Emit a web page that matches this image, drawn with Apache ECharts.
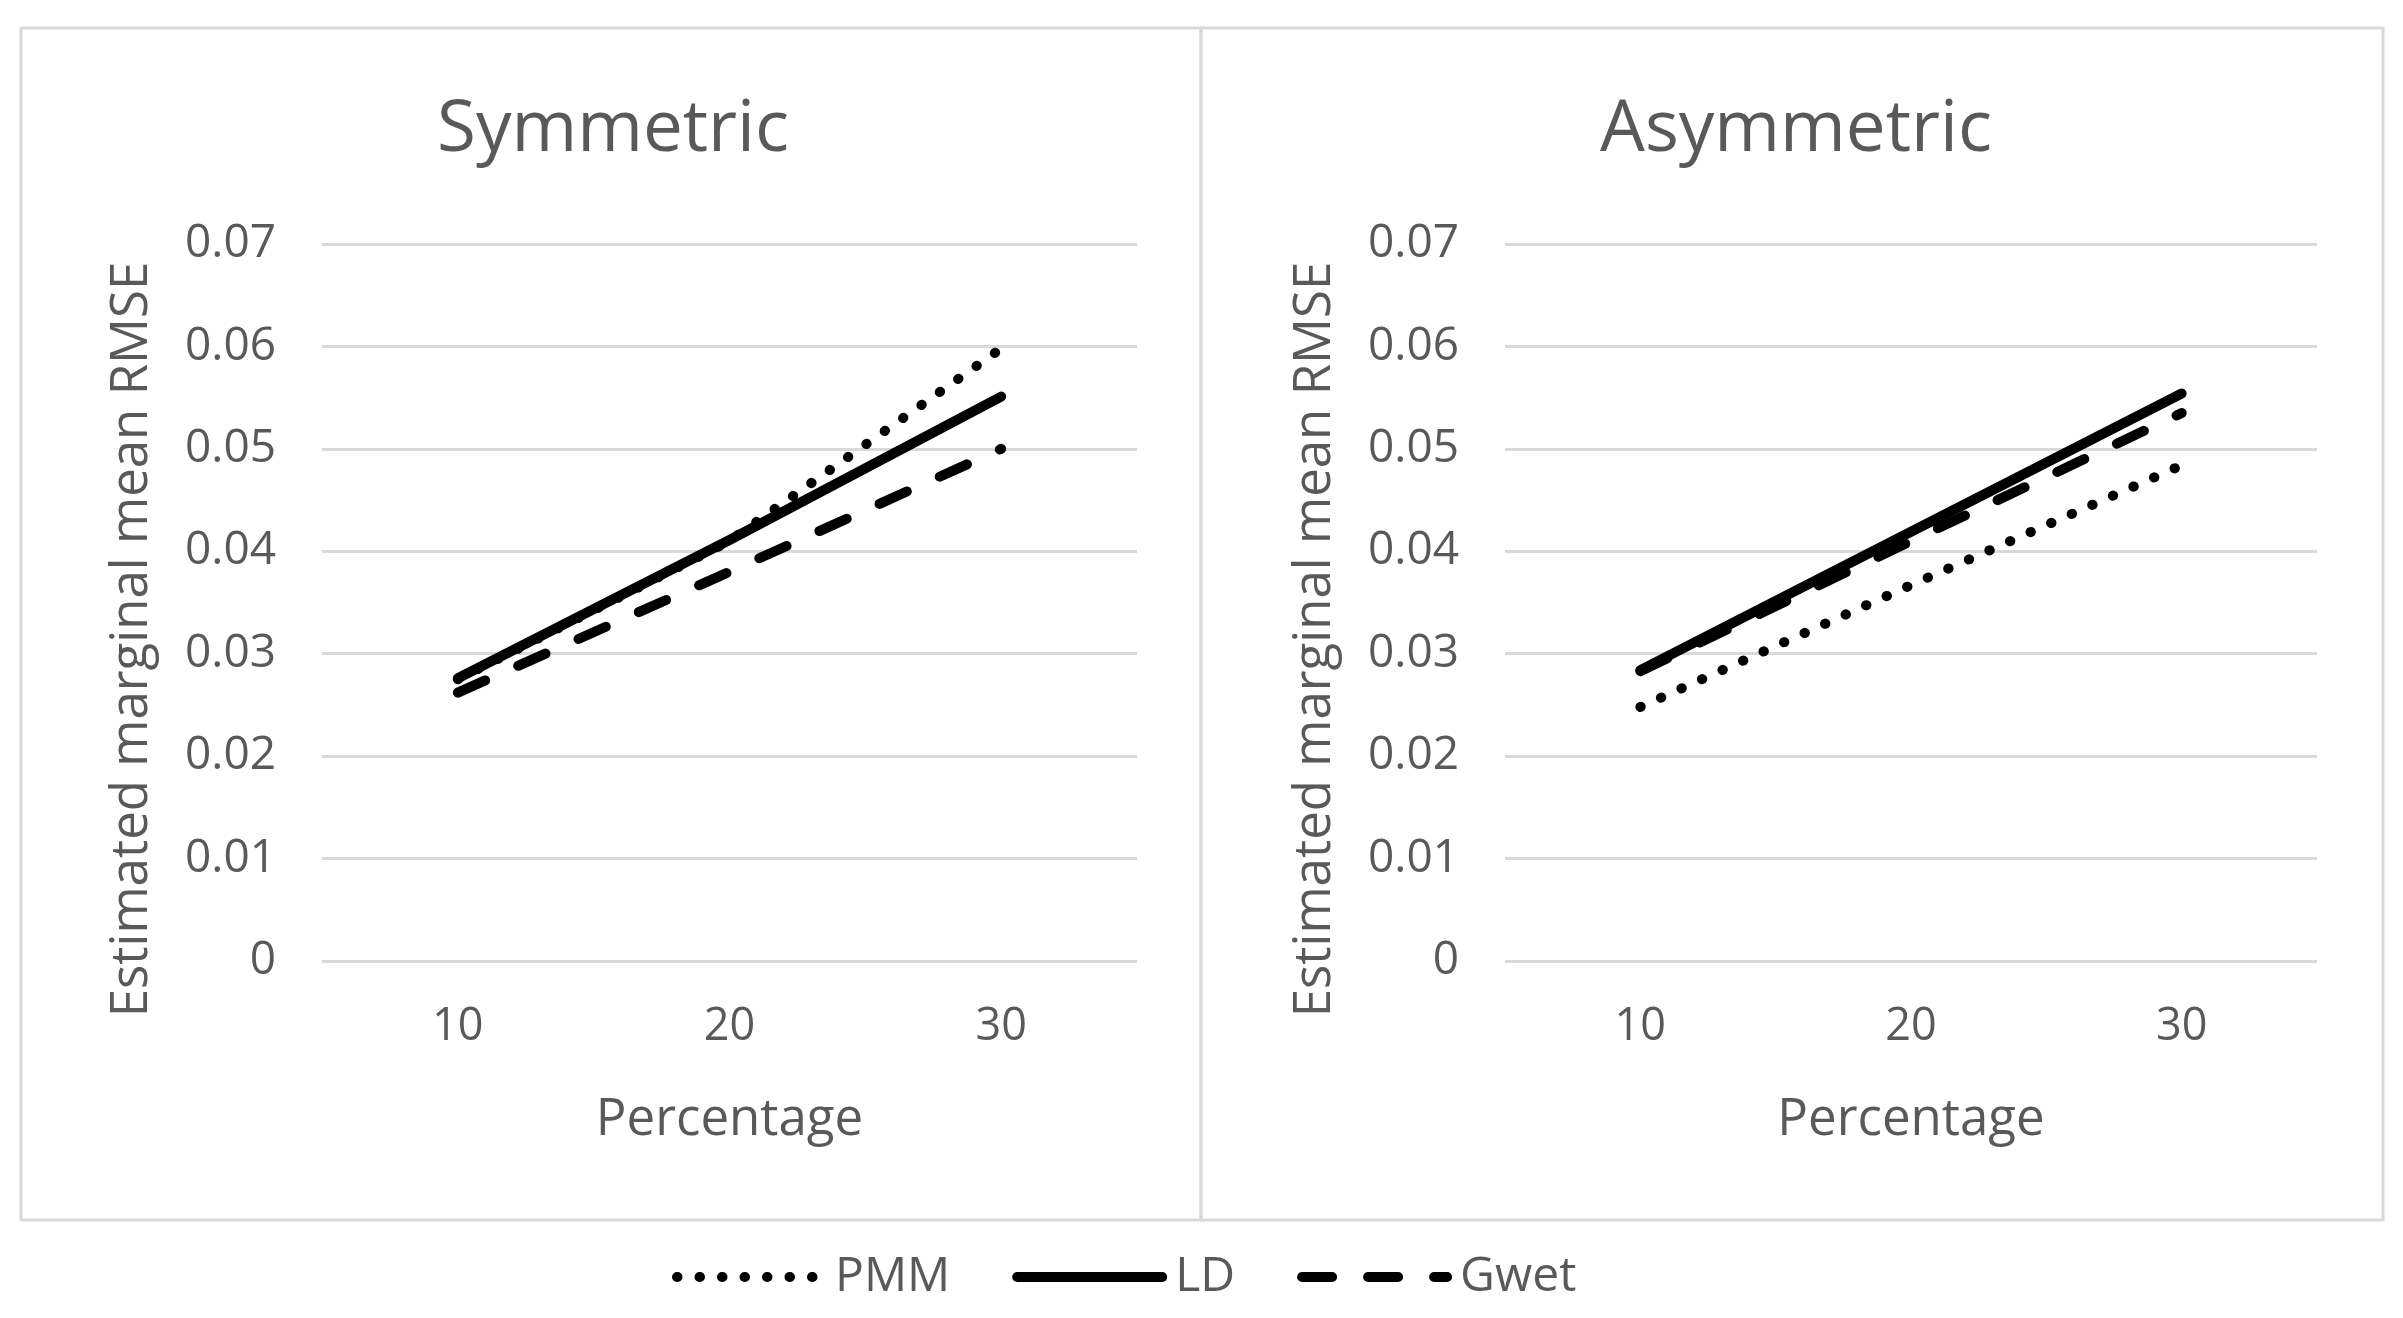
<!DOCTYPE html>
<html>
<head>
<meta charset="utf-8">
<script src="https://cdn.jsdelivr.net/npm/echarts@6/dist/echarts.min.js"></script>
<style>
html,body{margin:0;padding:0;background:#fff;}
#chart{width:2403px;height:1318px;}
</style>
</head>
<body>
<div id="chart"></div>
<script>
const categories = ['10', '20', '30'];
const yTicks = [0, 0.01, 0.02, 0.03, 0.04, 0.05, 0.06, 0.07];
const panelTitles = ['Symmetric', 'Asymmetric'];
const seriesNames = ['PMM', 'LD', 'Gwet'];
const symPMM = [0.0275, 0.0410, 0.0598];
const symLD = [0.0276, 0.0411, 0.0551];
const symGwet = [0.0262, 0.0380, 0.0500];
const asymPMM = [0.0248, 0.0367, 0.0484];
const asymLD = [0.0284, 0.0419, 0.0554];
const asymGwet = [0.0283, 0.0410, 0.0535];

const grey = '#595959';
const font = 'Open Sans';
const chart = echarts.init(document.getElementById('chart'));

const lineStyles = {
  PMM: {width: 10, type: [0.5, 22], cap: 'round', color: '#000'},
  LD: {width: 10, type: 'solid', cap: 'round', color: '#000'},
  Gwet: {width: 10, type: [30, 36], cap: 'round', color: '#000'}
};

function mkSeries(name, data, idx) {
  return {
    name: name, type: 'line', data: data,
    xAxisIndex: idx, yAxisIndex: idx,
    symbol: 'circle', showSymbol: false, smooth: false,
    lineStyle: lineStyles[name],
    itemStyle: {color: '#000'},
    z: name === 'LD' ? 3 : 2
  };
}

const grids = [
  {left: 322, right: 2403 - 1137, top: 244, bottom: 1318 - 961},
  {left: 1505, right: 2403 - 2317, top: 244, bottom: 1318 - 961}
];

function mkX(i) {
  return {
    type: 'category', gridIndex: i, data: categories, boundaryGap: true,
    axisLine: {show: false}, axisTick: {show: false},
    axisLabel: {color: grey, fontSize: 45, fontFamily: font, margin: 44},
    name: 'Percentage', nameLocation: 'middle', nameGap: 134,
    nameTextStyle: {color: grey, fontSize: 51, fontFamily: font}
  };
}
function mkY(i) {
  return {
    type: 'value', gridIndex: i, min: yTicks[0], max: yTicks[yTicks.length - 1], interval: 0.01,
    axisLine: {show: false}, axisTick: {show: false},
    splitLine: {lineStyle: {color: '#d9d9d9', width: 3}},
    axisLabel: {color: grey, fontSize: 46, fontFamily: font, margin: 46,
      formatter: v => String(Math.round(v * 100) / 100)},
    name: 'Estimated marginal mean RMSE', nameLocation: 'middle', nameGap: 164,
    nameTextStyle: {color: grey, fontSize: 51, fontFamily: font, padding: [0, 74, 0, 0]}
  };
}

chart.setOption({
  animation: false,
  backgroundColor: '#fff',
  title: [
    {text: panelTitles[0], left: 608, top: 126, textAlign: 'center', textVerticalAlign: 'middle',
      textStyle: {color: grey, fontSize: 71, fontWeight: 'normal', fontFamily: font}},
    {text: panelTitles[1], left: 1791, top: 126, textAlign: 'center', textVerticalAlign: 'middle',
      textStyle: {color: grey, fontSize: 71, fontWeight: 'normal', fontFamily: font}}
  ],
  graphic: [
    {type: 'rect', shape: {x: 21, y: 28, width: 1180, height: 1192}, style: {fill: 'none', stroke: '#d9d9d9', lineWidth: 3}, silent: true},
    {type: 'rect', shape: {x: 1201, y: 28, width: 1182, height: 1192}, style: {fill: 'none', stroke: '#d9d9d9', lineWidth: 3}, silent: true}
  ],
  legend: {
    data: seriesNames, left: 667, top: 1248,
    itemWidth: 145, itemHeight: 30, itemGap: 62,
    itemStyle: {opacity: 0},
    lineStyle: {width: 10},
    textStyle: {color: grey, fontSize: 48, fontFamily: font, padding: [0, 0, 0, 8]}
  },
  grid: grids,
  xAxis: [mkX(0), mkX(1)],
  yAxis: [mkY(0), mkY(1)],
  series: [
    mkSeries('PMM', symPMM, 0), mkSeries('LD', symLD, 0), mkSeries('Gwet', symGwet, 0),
    mkSeries('PMM', asymPMM, 1), mkSeries('LD', asymLD, 1), mkSeries('Gwet', asymGwet, 1)
  ]
});
</script>
</body>
</html>
